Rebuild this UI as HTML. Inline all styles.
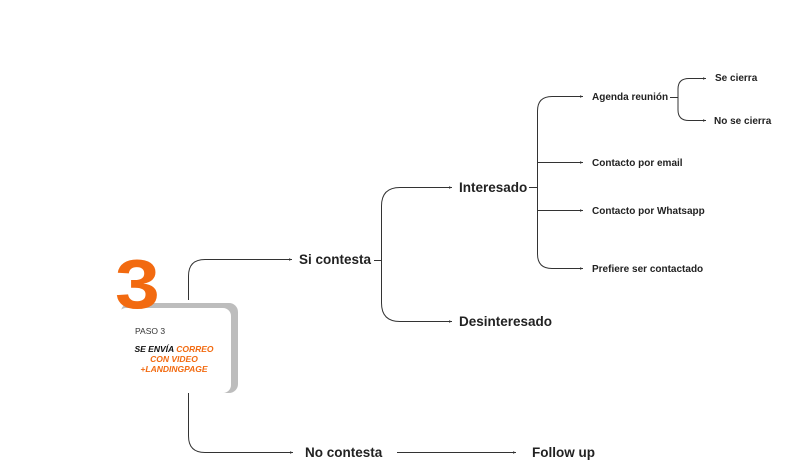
<!DOCTYPE html>
<html><head><meta charset="utf-8"><style>
html,body{margin:0;padding:0;background:#fff;}
body{width:785px;height:476px;overflow:hidden;position:relative;font-family:"Liberation Sans",sans-serif;}
svg{position:absolute;left:0;top:0;}
</style></head><body>
<svg width="785" height="476" viewBox="0 0 785 476" xmlns="http://www.w3.org/2000/svg">
<defs><marker id="a" markerWidth="4" markerHeight="4" refX="3" refY="2" orient="auto"><path d="M0,0.8 L3,2 L0,3.2z" fill="#333"/></marker></defs>
<g fill="none" stroke="#333" stroke-width="1">
<path d="M188.5,300 V276 Q188.5,259.5 205,259.5 H292" marker-end="url(#a)"/>
<path d="M188.5,393 V436 Q188.5,452.5 205,452.5 H293" marker-end="url(#a)"/>
<path d="M374,260.5 H381.5"/>
<path d="M381.5,260 V206 Q381.5,187.5 400,187.5 H452" marker-end="url(#a)"/>
<path d="M381.5,260 V303 Q381.5,321.5 400,321.5 H452" marker-end="url(#a)"/>
<path d="M529,187.5 H537.5"/>
<path d="M537.5,188 V111 Q537.5,96.5 552,96.5 H583" marker-end="url(#a)"/>
<path d="M537.5,188 V254 Q537.5,268.5 552,268.5 H583" marker-end="url(#a)"/>
<path d="M537.5,162.5 H583" marker-end="url(#a)"/>
<path d="M537.5,210.5 H583" marker-end="url(#a)"/>
<path d="M670,97.5 H678"/>
<path d="M678,98 V89 Q678,78.5 689,78.5 H706" marker-end="url(#a)"/>
<path d="M678,98 V110 Q678,120.5 689,120.5 H706" marker-end="url(#a)"/>
<path d="M397,452.5 H516" marker-end="url(#a)"/>
</g>
<rect x="121" y="303" width="117" height="90" rx="9" fill="#bdbdbd"/>
<rect x="118" y="308" width="113" height="85" rx="8" fill="#fff"/>
<text x="115" y="308" font-size="70" font-weight="bold" fill="#f26a10" transform="translate(115 308) scale(1.15 1) translate(-115 -308)">3</text>
<text x="135" y="334" font-size="8.5" fill="#333">PASO 3</text>
<g font-size="8.5" font-weight="bold" font-style="italic" text-anchor="middle">
<text x="174" y="352"><tspan fill="#111">SE ENVÍA </tspan><tspan fill="#f26a10">CORREO</tspan></text>
<text x="174" y="362" fill="#f26a10">CON VIDEO</text>
<text x="174" y="372" fill="#f26a10">+LANDINGPAGE</text>
</g>
<g font-weight="bold" fill="#222">
<text x="299" y="264" font-size="13.5">Si contesta</text>
<text x="459" y="192" font-size="13.5">Interesado</text>
<text x="459" y="326" font-size="13.5">Desinteresado</text>
<text x="305" y="457" font-size="13.5">No contesta</text>
<text x="532" y="457" font-size="13.5">Follow up</text>
<g font-size="10">
<text x="592" y="100">Agenda reunión</text>
<text x="592" y="166">Contacto por email</text>
<text x="592" y="214">Contacto por Whatsapp</text>
<text x="592" y="272">Prefiere ser contactado</text>
<text x="715" y="81">Se cierra</text>
<text x="714" y="124">No se cierra</text>
</g>
</g>
</svg>
</body></html>
